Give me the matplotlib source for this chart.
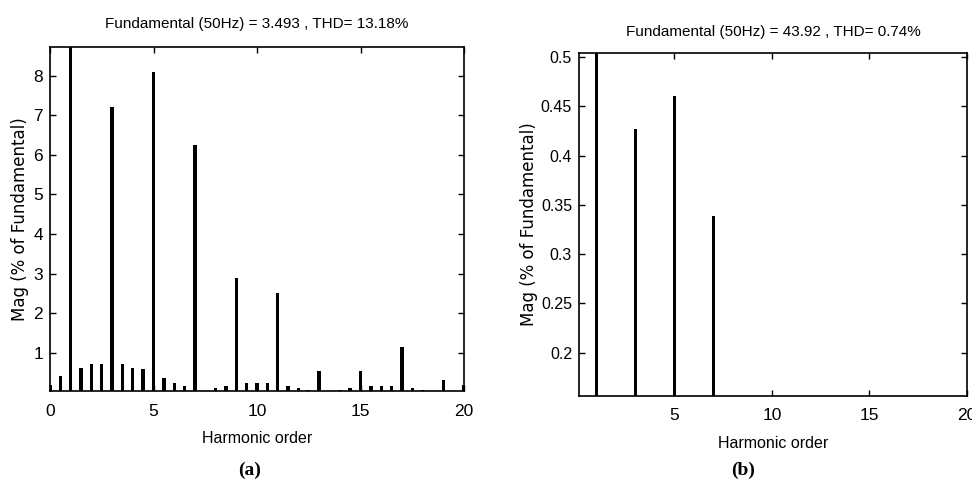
import matplotlib
matplotlib.use("Agg")
import matplotlib.pyplot as plt

# ---- data ----
orders_a = [0, 0.5, 1, 1.5, 2, 2.5, 3, 3.5, 4, 4.5, 5, 5.5, 6, 6.5, 7, 7.5, 8, 8.5,
            9, 9.5, 10, 10.5, 11, 11.5, 12, 12.5, 13, 13.5, 14, 14.5, 15, 15.5, 16,
            16.5, 17, 17.5, 18, 18.5, 19, 19.5, 20]
mag_a = [0.19, 0.41, 100, 0.62, 0.72, 0.72, 7.22, 0.71, 0.62, 0.58, 8.11, 0.36, 0.24,
         0.15, 6.26, 0.0, 0.10, 0.15, 2.90, 0.24, 0.24, 0.24, 2.52, 0.15, 0.10, 0.06,
         0.54, 0.0, 0.06, 0.10, 0.54, 0.15, 0.15, 0.15, 1.15, 0.10, 0.06, 0.0, 0.32,
         0.0, 0.19]
orders_b = [1, 3, 5, 7]
mag_b = [100, 0.427, 0.460, 0.339]

xticks_a = [0, 5, 10, 15, 20]
yticks_a = [1, 2, 3, 4, 5, 6, 7, 8]
xticks_b = [5, 10, 15, 20]
yticks_b = [0.2, 0.25, 0.3, 0.35, 0.4, 0.45, 0.5]
yticklabels_b = ["0.2", "0.25", "0.3", "0.35", "0.4", "0.45", "0.5"]

title_a = "Fundamental (50Hz) = 3.493 , THD= 13.18%"
title_b = "Fundamental (50Hz) = 43.92 , THD= 0.74%"
xlabel = "Harmonic order"
ylabel = "Mag (% of Fundamental)"

narrow = "Liberation Sans"

fig = plt.figure(figsize=(9.72, 4.82), dpi=100)

def style(ax, xt, yt, ytl=None, ysize=12.5):
    ax.tick_params(direction="in", top=True, right=True, length=4, width=1.0,
                   labelsize=12.5)
    ax.tick_params(axis="x", pad=9)
    ax.tick_params(axis="y", pad=5, labelsize=ysize)
    for s in ax.spines.values():
        s.set_linewidth(1.2)
    ax.set_xticks(xt)
    ax.set_yticks(yt)
    if ytl is not None:
        ax.set_yticklabels(ytl)
    for lab in ax.get_xticklabels() + ax.get_yticklabels():
        lab.set_fontfamily(narrow)

# panel (a)
ax1 = fig.add_axes([50/972, 1-391/482, 414/972, 344/482])
ax1.bar(orders_a, mag_a, width=0.16, color="black")
ax1.set_xlim(0, 20)
ax1.set_ylim(0.03, 8.73)
style(ax1, xticks_a, yticks_a)
ax1.set_title(title_a, fontsize=11, pad=14, family=narrow)
ax1.set_xlabel(xlabel, fontsize=11.5, labelpad=9, family=narrow)
ax1.set_ylabel(ylabel, fontsize=12, family="DejaVu Sans", labelpad=3)
fig.text(250/972, 1-470/482, "(a)", ha="center", va="center", fontsize=14,
         fontweight="bold", family="Liberation Serif")

# panel (b)
ax2 = fig.add_axes([579/972, 1-396/482, 388/972, 343/482])
ax2.bar(orders_b, mag_b, width=0.16, color="black")
ax2.set_xlim(0.12, 20)
ax2.set_ylim(0.156, 0.504)
style(ax2, xticks_b, yticks_b, yticklabels_b, ysize=11.5)
ax2.set_title(title_b, fontsize=11, pad=12, family=narrow)
ax2.set_xlabel(xlabel, fontsize=11.5, labelpad=9, family=narrow)
ax2.set_ylabel(ylabel, fontsize=12, family="DejaVu Sans", labelpad=2)
fig.text(743/972, 1-470/482, "(b)", ha="center", va="center", fontsize=14,
         fontweight="bold", family="Liberation Serif")

fig.savefig("out.png", dpi=100)
